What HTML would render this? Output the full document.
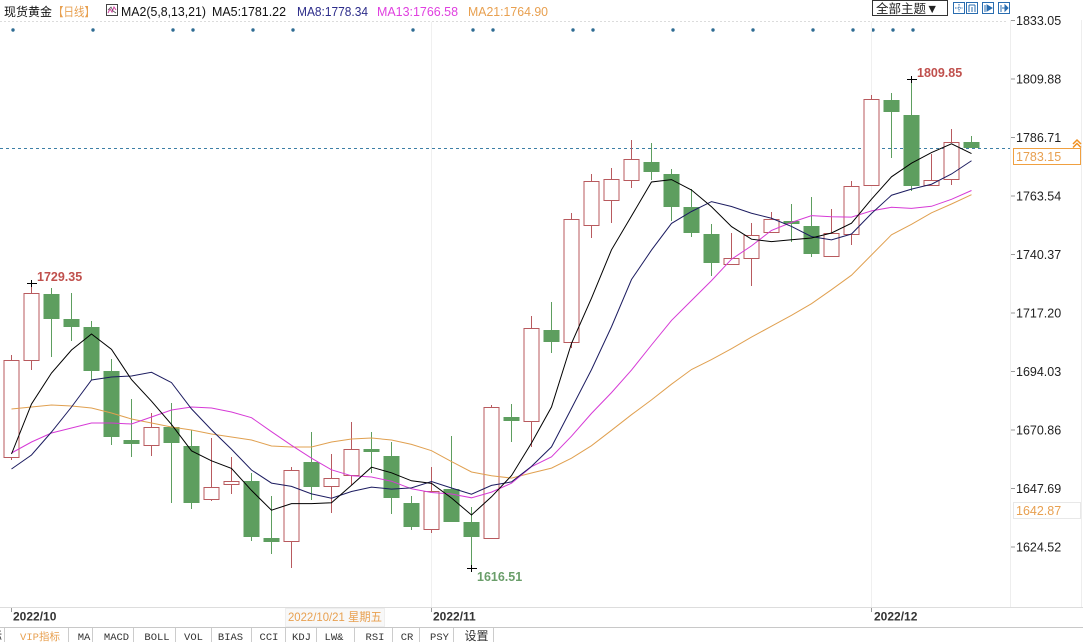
<!DOCTYPE html>
<html><head><meta charset="utf-8"><style>
html,body{margin:0;padding:0;background:#fff;}
svg{display:block;font-family:"Liberation Sans","Noto Sans CJK SC",sans-serif;}
</style></head><body>
<svg width="1083" height="642" viewBox="0 0 1083 642" xmlns="http://www.w3.org/2000/svg">
<rect x="0" y="0" width="1083" height="642" fill="#fff"/>
<!-- header -->
<text x="4" y="16" font-size="12" fill="#111" font-family="'Liberation Sans','Noto Sans CJK SC',sans-serif">现货黄金</text>
<text x="53" y="16" font-size="12" fill="#e8a050" textLength="42" lengthAdjust="spacingAndGlyphs" font-family="'Liberation Sans','Noto Sans CJK SC',sans-serif">【日线】</text>
<rect x="106.5" y="4.5" width="11" height="11" fill="#fff" stroke="#444"/>
<polyline points="108,13 110,9 112,12 114,7 116,10" fill="none" stroke="#d040a0" stroke-width="1"/>
<polyline points="108,10 111,7 113,11 116,13" fill="none" stroke="#555" stroke-width="0.8"/>
<text x="121" y="16" font-size="12.5" fill="#111" textLength="85" lengthAdjust="spacingAndGlyphs">MA2(5,8,13,21)</text>
<text x="212" y="16" font-size="12.5" fill="#111" textLength="74" lengthAdjust="spacingAndGlyphs">MA5:1781.22</text>
<text x="297" y="16" font-size="12.5" fill="#2c2c8a" textLength="71" lengthAdjust="spacingAndGlyphs">MA8:1778.34</text>
<text x="377" y="16" font-size="12.5" fill="#e040e0" textLength="81" lengthAdjust="spacingAndGlyphs">MA13:1766.58</text>
<text x="468" y="16" font-size="12.5" fill="#e8a050" textLength="80" lengthAdjust="spacingAndGlyphs">MA21:1764.90</text>
<!-- top right controls -->
<rect x="872.5" y="0.5" width="75" height="15" fill="#fff" stroke="#333"/>
<text x="876" y="13" font-size="12.5" fill="#222" font-family="'Liberation Sans','Noto Sans CJK SC',sans-serif">全部主题▼</text>
<g fill="#fff" stroke="#2a6db0" stroke-width="1">
<rect x="953.5" y="2.5" width="11" height="11"/>
<rect x="966.5" y="2.5" width="11" height="11"/>
<rect x="982.5" y="2.5" width="11" height="11"/>
<rect x="998.5" y="2.5" width="11" height="11"/>
</g>
<g stroke="#2a6db0" stroke-width="1" fill="none">
<line x1="959" y1="4" x2="959" y2="12" stroke-dasharray="1.5,1"/><line x1="955" y1="8" x2="963" y2="8" stroke-dasharray="1.5,1"/>
<line x1="969" y1="5" x2="969" y2="12"/><line x1="975" y1="5" x2="975" y2="12"/><line x1="969" y1="5" x2="975" y2="5"/><line x1="972" y1="7" x2="972" y2="12"/>
<line x1="985" y1="5" x2="985" y2="12"/><polygon points="987,5 992,8 987,11" fill="#2a6db0"/>
<line x1="1001" y1="5" x2="1001" y2="12"/><line x1="1002" y1="8" x2="1007" y2="8"/><polygon points="1005,5 1008,8 1005,11" fill="#2a6db0"/>
</g>
<!-- top dotted grid -->
<line x1="0" y1="21.5" x2="1008" y2="21.5" stroke="#dcdcdc" stroke-dasharray="2,2"/>
<!-- dots row -->
<g fill="#2e6b93">
<circle cx="13" cy="30" r="1.7"/><circle cx="93" cy="30" r="1.7"/><circle cx="173" cy="30" r="1.7"/><circle cx="193" cy="30" r="1.7"/>
<circle cx="253" cy="30" r="1.7"/><circle cx="293" cy="30" r="1.7"/><circle cx="413" cy="30" r="1.7"/><circle cx="473" cy="30" r="1.7"/>
<circle cx="493" cy="30" r="1.7"/><circle cx="573" cy="30" r="1.7"/><circle cx="593" cy="30" r="1.7"/><circle cx="673" cy="30" r="1.7"/>
<circle cx="713" cy="30" r="1.7"/><circle cx="753" cy="30" r="1.7"/><circle cx="813" cy="30" r="1.7"/><circle cx="853" cy="30" r="1.7"/>
<circle cx="873" cy="30" r="1.7"/><circle cx="893" cy="30" r="1.7"/><circle cx="913" cy="30" r="1.7"/>
</g>
<!-- faint vertical month lines -->
<line x1="431.5" y1="22" x2="431.5" y2="607" stroke="#f0f0f0"/>
<line x1="871.5" y1="22" x2="871.5" y2="607" stroke="#f0f0f0"/>
<!-- axis separator -->
<line x1="1010.5" y1="20" x2="1010.5" y2="607" stroke="#eeeeee"/>
<line x1="1081.5" y1="20" x2="1081.5" y2="607" stroke="#eeeeee"/>
<!-- current price dashed line -->
<line x1="0" y1="148.5" x2="1010" y2="148.5" stroke="#3d7fa6" stroke-dasharray="3,3"/>
<!-- candles -->
<g stroke="#b85a5e" stroke-width="1">
<line x1="11.5" y1="355" x2="11.5" y2="460"/><rect x="4" y="360.5" width="15" height="97" fill="#fff"/>
<line x1="31.5" y1="283" x2="31.5" y2="370"/><rect x="24" y="293.5" width="15" height="67" fill="#fff"/>
<line x1="151.5" y1="413" x2="151.5" y2="456"/><rect x="144" y="427.5" width="15" height="18" fill="#fff"/>
<line x1="211.5" y1="438" x2="211.5" y2="501"/><rect x="204" y="487.5" width="15" height="12" fill="#fff"/>
<line x1="231.5" y1="457" x2="231.5" y2="494"/><rect x="224" y="481.5" width="15" height="3" fill="#fff"/>
<line x1="291.5" y1="467" x2="291.5" y2="568"/><rect x="284" y="470.5" width="15" height="71" fill="#fff"/>
<line x1="331.5" y1="454" x2="331.5" y2="513"/><rect x="324" y="478.5" width="15" height="8" fill="#fff"/>
<line x1="351.5" y1="422" x2="351.5" y2="485"/><rect x="344" y="449.5" width="15" height="26" fill="#fff"/>
<line x1="431.5" y1="467" x2="431.5" y2="533"/><rect x="424" y="491.5" width="15" height="38" fill="#fff"/>
<line x1="491.5" y1="405" x2="491.5" y2="539"/><rect x="484" y="407.5" width="15" height="131" fill="#fff"/>
<line x1="531.5" y1="316" x2="531.5" y2="447"/><rect x="524" y="328.5" width="15" height="93" fill="#fff"/>
<line x1="571.5" y1="213" x2="571.5" y2="348"/><rect x="564" y="219.5" width="15" height="123" fill="#fff"/>
<line x1="591.5" y1="174" x2="591.5" y2="238"/><rect x="584" y="181.5" width="15" height="44" fill="#fff"/>
<line x1="611.5" y1="168" x2="611.5" y2="223"/><rect x="604" y="179.5" width="15" height="21" fill="#fff"/>
<line x1="631.5" y1="140" x2="631.5" y2="188"/><rect x="624" y="159.5" width="15" height="21" fill="#fff"/>
<line x1="731.5" y1="233" x2="731.5" y2="265"/><rect x="724" y="258.5" width="15" height="6" fill="#fff"/>
<line x1="751.5" y1="223" x2="751.5" y2="286"/><rect x="744" y="235.5" width="15" height="23" fill="#fff"/>
<line x1="771.5" y1="212" x2="771.5" y2="233"/><rect x="764" y="219.5" width="15" height="13" fill="#fff"/>
<line x1="831.5" y1="209" x2="831.5" y2="257"/><rect x="824" y="233.5" width="15" height="23" fill="#fff"/>
<line x1="851.5" y1="181" x2="851.5" y2="245"/><rect x="844" y="186.5" width="15" height="48" fill="#fff"/>
<line x1="871.5" y1="95" x2="871.5" y2="186"/><rect x="864" y="99.5" width="15" height="86" fill="#fff"/>
<line x1="931.5" y1="154" x2="931.5" y2="186"/><rect x="924" y="180.5" width="15" height="5" fill="#fff"/>
<line x1="951.5" y1="129" x2="951.5" y2="185"/><rect x="944" y="142.5" width="15" height="37" fill="#fff"/>
</g>
<g stroke="#5d9e5f" stroke-width="1">
<line x1="51.5" y1="288" x2="51.5" y2="357"/>
<line x1="71.5" y1="293" x2="71.5" y2="341"/>
<line x1="91.5" y1="321" x2="91.5" y2="380"/>
<line x1="111.5" y1="359" x2="111.5" y2="445"/>
<line x1="131.5" y1="399" x2="131.5" y2="457"/>
<line x1="171.5" y1="403" x2="171.5" y2="503"/>
<line x1="191.5" y1="430" x2="191.5" y2="509"/>
<line x1="251.5" y1="473" x2="251.5" y2="541"/>
<line x1="271.5" y1="496" x2="271.5" y2="554"/>
<line x1="311.5" y1="432" x2="311.5" y2="500"/>
<line x1="371.5" y1="432" x2="371.5" y2="473"/>
<line x1="391.5" y1="442" x2="391.5" y2="514"/>
<line x1="411.5" y1="496" x2="411.5" y2="530"/>
<line x1="451.5" y1="436" x2="451.5" y2="522"/>
<line x1="471.5" y1="507" x2="471.5" y2="568"/>
<line x1="511.5" y1="404" x2="511.5" y2="442"/>
<line x1="551.5" y1="302" x2="551.5" y2="353"/>
<line x1="651.5" y1="143" x2="651.5" y2="180"/>
<line x1="671.5" y1="169" x2="671.5" y2="221"/>
<line x1="691.5" y1="189" x2="691.5" y2="237"/>
<line x1="711.5" y1="224" x2="711.5" y2="276"/>
<line x1="791.5" y1="204" x2="791.5" y2="242"/>
<line x1="811.5" y1="197" x2="811.5" y2="257"/>
<line x1="891.5" y1="93" x2="891.5" y2="158"/>
<line x1="911.5" y1="80" x2="911.5" y2="191"/>
<line x1="971.5" y1="136" x2="971.5" y2="148"/>
</g>
<g fill="#5d9e5f">
<rect x="43.5" y="294" width="16" height="25"/>
<rect x="63.5" y="319" width="16" height="8"/>
<rect x="83.5" y="327" width="16" height="44"/>
<rect x="103.5" y="371" width="16" height="66"/>
<rect x="123.5" y="440" width="16" height="4"/>
<rect x="163.5" y="427" width="16" height="16"/>
<rect x="183.5" y="446" width="16" height="57"/>
<rect x="243.5" y="481" width="16" height="56"/>
<rect x="263.5" y="538" width="16" height="4"/>
<rect x="303.5" y="462" width="16" height="25"/>
<rect x="363.5" y="449" width="16" height="3"/>
<rect x="383.5" y="456" width="16" height="42"/>
<rect x="403.5" y="503" width="16" height="24"/>
<rect x="443.5" y="489" width="16" height="33"/>
<rect x="463.5" y="522" width="16" height="15"/>
<rect x="503.5" y="417" width="16" height="4"/>
<rect x="543.5" y="330" width="16" height="12"/>
<rect x="643.5" y="162" width="16" height="10"/>
<rect x="663.5" y="174" width="16" height="33"/>
<rect x="683.5" y="207" width="16" height="26"/>
<rect x="703.5" y="234" width="16" height="29"/>
<rect x="783.5" y="221" width="16" height="3"/>
<rect x="803.5" y="226" width="16" height="28"/>
<rect x="883.5" y="100" width="16" height="12"/>
<rect x="903.5" y="115" width="16" height="71"/>
<rect x="963.5" y="142" width="16" height="6"/>
</g>
<!-- MA lines -->
<polyline fill="none" stroke="#e0a050" stroke-width="1" points="11.5,409 31.5,407 51.5,405 71.5,406 91.5,408 111.5,413 131.5,419 151.5,423 171.5,427 191.5,430 211.5,434 231.5,437 251.5,440 271.5,446 291.5,447 311.5,447 331.5,442 351.5,439 371.5,438 391.5,440 411.5,444.4 431.5,450.7 451.5,461.6 471.5,472 491.5,475.8 511.5,478.1 531.5,473 551.5,468.1 571.5,458.2 591.5,445.7 611.5,430.3 631.5,414.7 651.5,399.9 671.5,384.2 691.5,369.5 711.5,359.6 731.5,348.7 751.5,337.1 771.5,326.2 791.5,315.3 811.5,303.7 831.5,289.7 851.5,275.2 871.5,255 891.5,234.8 911.5,224.3 931.5,212.8 951.5,204 971.5,194.7"/>
<polyline fill="none" stroke="#d63ad6" stroke-width="1" points="11.5,453 31.5,442 51.5,433 71.5,428 91.5,423 111.5,423 131.5,424 151.5,417 171.5,410 191.5,407 211.5,408 231.5,412 251.5,417.7 271.5,431.7 291.5,445.3 311.5,458.2 331.5,469.8 351.5,475.8 371.5,477 391.5,481.2 411.5,488.8 431.5,492.5 451.5,494 471.5,497.8 491.5,492.1 511.5,483.2 531.5,466.7 551.5,456.8 571.5,436.2 591.5,413.4 611.5,392.6 631.5,370.1 651.5,345 671.5,320.4 691.5,300.5 711.5,280.6 731.5,259.2 751.5,245.9 771.5,230.4 791.5,222.4 811.5,215.6 831.5,216.7 851.5,217.1 871.5,210.9 891.5,207.3 911.5,208.4 931.5,206.3 951.5,199.3 971.5,190.5"/>
<polyline fill="none" stroke="#1c1c60" stroke-width="1" points="11.5,469 31.5,455 51.5,432 71.5,407 91.5,380 111.5,377 131.5,376 151.5,372.25 171.5,382.6 191.5,408.9 211.5,429.9 231.5,449.25 251.5,470 271.5,483.1 291.5,486.4 311.5,493.9 331.5,498.25 351.5,491.5 371.5,487.1 391.5,489.1 411.5,487.9 431.5,481.5 451.5,488 471.5,494.25 491.5,485.4 511.5,481.9 531.5,466.4 551.5,446.9 571.5,408.4 591.5,369.6 611.5,326.75 631.5,279.5 651.5,250.1 671.5,223.4 691.5,211.5 711.5,201.6 731.5,206.5 751.5,213.25 771.5,218.25 791.5,226.4 811.5,236.6 831.5,239.9 851.5,234 871.5,213.5 891.5,195.25 911.5,189.1 931.5,184.25 951.5,174 971.5,160.75"/>
<polyline fill="none" stroke="#000" stroke-width="1" points="11.5,454 31.5,404 51.5,373 71.5,350 91.5,334 111.5,349.4 131.5,379.6 151.5,401.2 171.5,424.4 191.5,450.8 211.5,460.8 231.5,468.4 251.5,490.4 271.5,510.2 291.5,503.6 311.5,503.6 331.5,502.8 351.5,485.2 371.5,467.2 391.5,472.8 411.5,480.8 431.5,483.4 451.5,498 471.5,515 491.5,496.8 511.5,475.6 531.5,443 551.5,407 571.5,343.4 591.5,298.2 611.5,249.8 631.5,216 651.5,182 671.5,179.6 691.5,190 711.5,206.8 731.5,226.6 751.5,239.2 771.5,241.6 791.5,239.8 811.5,238 831.5,233 851.5,223.2 871.5,199.2 891.5,176.8 911.5,163.2 931.5,152.6 951.5,143.8 971.5,153.6"/>
<!-- high/low markers -->
<g stroke="#000" stroke-width="1">
<line x1="27" y1="283.5" x2="37" y2="283.5"/><line x1="31.5" y1="280" x2="31.5" y2="287"/>
<line x1="907" y1="79.5" x2="917" y2="79.5"/><line x1="911.5" y1="76" x2="911.5" y2="83"/>
<line x1="467" y1="568.5" x2="477" y2="568.5"/><line x1="471.5" y1="565" x2="471.5" y2="572"/>
</g>
<text x="37" y="281" font-size="12.5" font-weight="bold" fill="#c0504d">1729.35</text>
<text x="917" y="77" font-size="12.5" font-weight="bold" fill="#c0504d">1809.85</text>
<text x="477" y="581" font-size="12.5" font-weight="bold" fill="#6a9e6a">1616.51</text>
<!-- right axis -->
<g stroke="#999" stroke-width="1">
<line x1="1011" y1="20.5" x2="1015" y2="20.5"/><line x1="1011" y1="79" x2="1015" y2="79"/>
<line x1="1011" y1="137.5" x2="1015" y2="137.5"/><line x1="1011" y1="196" x2="1015" y2="196"/>
<line x1="1011" y1="254.5" x2="1015" y2="254.5"/><line x1="1011" y1="313" x2="1015" y2="313"/>
<line x1="1011" y1="371.5" x2="1015" y2="371.5"/><line x1="1011" y1="430" x2="1015" y2="430"/>
<line x1="1011" y1="488.5" x2="1015" y2="488.5"/><line x1="1011" y1="547" x2="1015" y2="547"/>
</g>
<g font-size="12.5" fill="#222">
<text x="1016" y="25">1833.05</text>
<text x="1016" y="83.5">1809.88</text>
<text x="1016" y="142">1786.71</text>
<text x="1016" y="200.5">1763.54</text>
<text x="1016" y="259">1740.37</text>
<text x="1016" y="317.5">1717.20</text>
<text x="1016" y="376">1694.03</text>
<text x="1016" y="434.5">1670.86</text>
<text x="1016" y="493">1647.69</text>
<text x="1016" y="551.5">1624.52</text>
</g>
<rect x="1013.5" y="148.5" width="67" height="16" fill="#fff" stroke="#f0a040"/>
<text x="1016" y="161" font-size="12.5" fill="#e8a050">1783.15</text>
<polyline points="1073,144 1077,140 1081,144" fill="none" stroke="#f09020" stroke-width="1.5"/>
<polyline points="1073,147.5 1077,143.5 1081,147.5" fill="none" stroke="#f09020" stroke-width="1.5"/>
<rect x="1013.5" y="502.5" width="67" height="16" fill="#fff" stroke="#e8e8e8"/>
<text x="1016" y="515" font-size="12.5" fill="#e8a050">1642.87</text>
<!-- bottom date row -->
<line x1="0" y1="607.5" x2="1083" y2="607.5" stroke="#dddddd"/>
<g stroke="#999"><line x1="11.5" y1="608" x2="11.5" y2="612"/><line x1="431.5" y1="608" x2="431.5" y2="612"/><line x1="871.5" y1="608" x2="871.5" y2="612"/></g>
<text x="13" y="620.5" font-size="12" font-weight="bold" fill="#333">2022/10</text>
<text x="433" y="620.5" font-size="12" font-weight="bold" fill="#333">2022/11</text>
<text x="874" y="620.5" font-size="12" font-weight="bold" fill="#333">2022/12</text>
<rect x="285.5" y="608.5" width="99" height="18" fill="#f8f8f8" stroke="#eeeeee"/>
<text x="288" y="621" font-size="12" fill="#e8a050" textLength="94" lengthAdjust="spacingAndGlyphs" font-family="'Liberation Sans','Noto Sans CJK SC',sans-serif">2022/10/21 星期五</text>
<line x1="0" y1="627.5" x2="1083" y2="627.5" stroke="#c8c8c8"/>
<!-- tab row -->
<g stroke="#cccccc" stroke-width="1">
<line x1="4.5" y1="628" x2="4.5" y2="642"/><line x1="68.5" y1="628" x2="68.5" y2="642"/><line x1="92.5" y1="628" x2="92.5" y2="642"/>
<line x1="133.5" y1="628" x2="133.5" y2="642"/><line x1="175.5" y1="628" x2="175.5" y2="642"/><line x1="211.5" y1="628" x2="211.5" y2="642"/>
<line x1="251.5" y1="628" x2="251.5" y2="642"/><line x1="285.5" y1="628" x2="285.5" y2="642"/><line x1="316.5" y1="628" x2="316.5" y2="642"/>
<line x1="354.5" y1="628" x2="354.5" y2="642"/><line x1="392.5" y1="628" x2="392.5" y2="642"/><line x1="419.5" y1="628" x2="419.5" y2="642"/>
<line x1="453.5" y1="628" x2="453.5" y2="642"/><line x1="493.5" y1="628" x2="493.5" y2="642"/>
</g>
<g font-family="'Liberation Mono','Noto Sans CJK SC',monospace" font-size="10.5" fill="#333" text-anchor="middle">
<text x="-4" y="640" font-size="12">标</text>
<text x="40" y="640" fill="#e8a050">VIP指标</text>
<text x="84" y="640">MA</text>
<text x="116.5" y="640">MACD</text>
<text x="157" y="640">BOLL</text>
<text x="193.5" y="640">VOL</text>
<text x="230.5" y="640">BIAS</text>
<text x="269" y="640">CCI</text>
<text x="301.5" y="640">KDJ</text>
<text x="334" y="640">LW&amp;</text>
<text x="375" y="640">RSI</text>
<text x="407" y="640">CR</text>
<text x="439.5" y="640">PSY</text>
<text x="476.5" y="640" font-size="12">设置</text>
</g>
</svg>
</body></html>
